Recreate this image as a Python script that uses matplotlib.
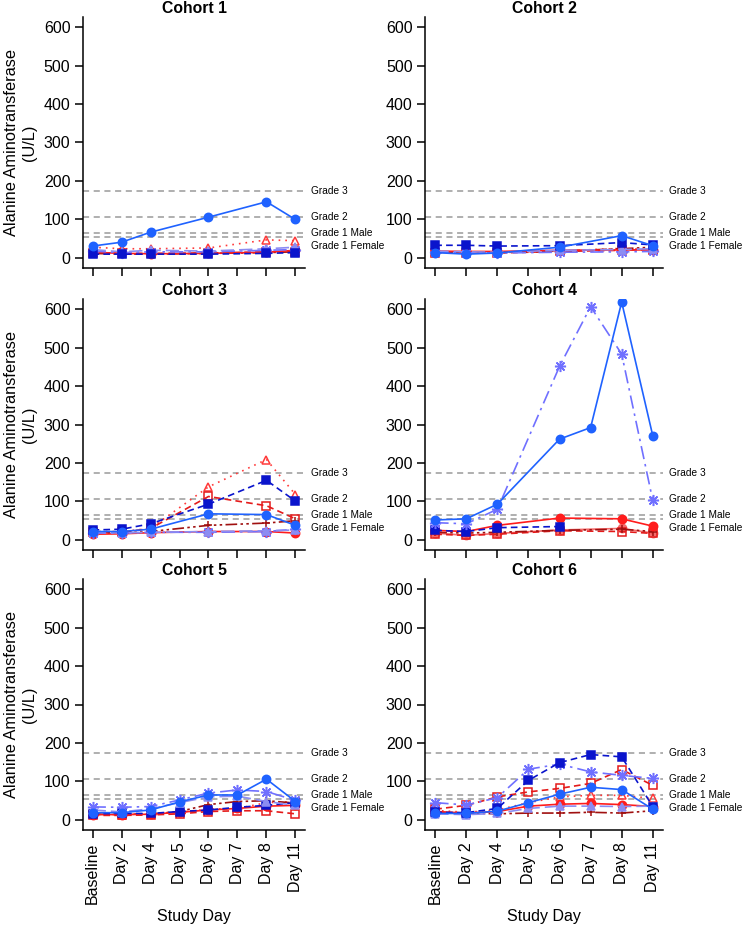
import numpy as np
import matplotlib
matplotlib.use("Agg")
import matplotlib.pyplot as plt

plt.rcParams['font.family'] = ['Liberation Sans', 'DejaVu Sans']

days = ["Baseline", "Day 2", "Day 4", "Day 5", "Day 6", "Day 7", "Day 8", "Day 11"]
nan = np.nan

grade_values = [175, 106, 65, 55]
grade_labels = ["Grade 3", "Grade 2", "Grade 1 Male", "Grade 1 Female"]
grade_label_y = [175, 106, 65, 31]

# ALT (U/L) per subject, one list per cohort and line style
cohort1 = {
    "red_tri":      [28, 24, 24, nan, 26, nan, 47, 45],
    "red_square":   [14, 12, 12, nan, 13, nan, 16, 16],
    "darkred_plus": [12, 10, 10, nan, 12, nan, 14, 16],
    "red_circle":   [15, 12, 11, nan, 12, nan, 15, 20],
    "star":         [18, 14, 16, nan, 16, nan, 20, 22],
    "lav_tri":      [22, 16, 20, nan, 18, nan, 24, 28],
    "dark_square":  [10, 10, 10, nan, 10, nan, 12, 14],
    "blue_circle":  [31, 41, 67, nan, 106, nan, 146, 100],
}
cohort2 = {
    "red_tri":      [16, 15, 15, nan, 18, nan, 25, 22],
    "red_square":   [14, 14, 13, nan, 17, nan, 20, 22],
    "darkred_plus": [15, 15, 14, nan, 18, nan, 24, 28],
    "red_circle":   [18, 17, 17, nan, 20, nan, 21, 21],
    "star":         [15, 14, 13, nan, 15, nan, 16, 17],
    "lav_tri":      [18, 16, 15, nan, 20, nan, 22, 24],
    "dark_square":  [33, 33, 31, nan, 32, nan, 40, 34],
    "blue_circle":  [14, 10, 13, nan, 28, nan, 58, 32],
}
cohort3 = {
    "red_tri":      [22, 22, 30, nan, 138, nan, 209, 118],
    "red_square":   [20, 20, 30, nan, 113, nan, 89, 55],
    "darkred_plus": [18, 18, 22, nan, 38, nan, 44, 50],
    "red_circle":   [15, 16, 19, nan, 22, nan, 22, 18],
    "star":         [18, 18, 20, nan, 20, nan, 22, 28],
    "lav_tri":      [20, 18, 20, nan, 22, nan, 24, 26],
    "dark_square":  [26, 28, 42, nan, 93, nan, 155, 101],
    "blue_circle":  [22, 22, 28, nan, 68, nan, 66, 38],
}
cohort4 = {
    "salmon_circle": [18, 12, 17, nan, 26, nan, 30, 18],
    "red_square":   [15, 12, 15, nan, 24, nan, 22, 17],
    "darkred_plus": [20, 18, 20, nan, 25, nan, 28, 22],
    "red_circle":   [25, 22, 38, nan, 57, nan, 55, 36],
    "dark_square":  [25, 22, 32, nan, 35, nan, nan, nan],
    "star":         [45, 42, 80, nan, 451, 606, 483, 103],
    "blue_circle":  [52, 55, 93, nan, 262, 292, 618, 271],
}
cohort5 = {
    "red_tri":      [15, 14, 16, 20, 28, 30, 45, 48],
    "red_square":   [12, 12, 13, 16, 22, 24, 24, 16],
    "darkred_plus": [15, 15, 16, 22, 40, 48, 50, 44],
    "red_circle":   [14, 14, 15, 20, 26, 30, 36, 38],
    "dark_square":  [16, 17, 17, 22, 26, 33, 38, 45],
    "lav_tri":      [26, 21, 29, 45, 60, 62, 48, 38],
    "star":         [34, 33, 35, 52, 70, 78, 74, 51],
    "blue_circle":  [19, 19, 26, 47, 65, 65, 106, 48],
}
cohort6 = {
    "darkred_plus": [20, 18, 16, 18, 18, 20, 18, 24],
    "red_tri":      [25, 20, 26, 45, 60, 64, 64, 56],
    "red_square":   [28, 38, 60, 73, 82, 95, 131, 90],
    "red_circle":   [22, 18, 22, 36, 41, 43, 40, 35],
    "lav_tri":      [16, 14, 17, 30, 36, 36, 35, 36],
    "star":         [45, 39, 58, 132, 145, 125, 116, 108],
    "dark_square":  [20, 19, 30, 103, 149, 170, 164, 35],
    "blue_circle":  [17, 17, 23, 45, 67, 85, 79, 28],
}

asterisk = (8, 2, 0)
styles = {
    "blue_circle":   dict(color="#1f62ff", ls="-", marker="o", mfc="#1f62ff"),
    "dark_square":   dict(color="#0a14cc", ls=(0, (4, 2.5)), marker="s", mfc="#0a14cc"),
    "star":          dict(color="#7070ff", ls=(0, (8, 3, 1.5, 3)), marker=asterisk, mfc="#7070ff"),
    "lav_tri":       dict(color="#8c8cf2", ls=(0, (8, 3)), marker="^", mfc="#8c8cf2"),
    "red_circle":    dict(color="#ff1c1c", ls="-", marker="o", mfc="#ff1c1c"),
    "red_square":    dict(color="#e41a1a", ls=(0, (4, 2.5)), marker="s", mfc="none"),
    "red_tri":       dict(color="#ff3a3a", ls=(0, (1, 3)), marker="^", mfc="none"),
    "darkred_plus":  dict(color="#a01010", ls=(0, (7, 2, 1.5, 2, 1.5, 2)), marker="+", mfc="#a01010"),
    "salmon_circle": dict(color="#f46a6a", ls="-", marker="o", mfc="#f46a6a"),
}

cohorts = [cohort1, cohort2, cohort3, cohort4, cohort5, cohort6]
titles = ["Cohort 1", "Cohort 2", "Cohort 3", "Cohort 4", "Cohort 5", "Cohort 6"]

W, H = 742, 925
fig = plt.figure(figsize=(W / 100, H / 100), dpi=100)
col_px = [(83, 222), (425, 238)]
row_px = [(17, 268), (299, 550), (579, 830)]

x = np.arange(len(days))
for i, (data, title) in enumerate(zip(cohorts, titles)):
    r, c = divmod(i, 2)
    left, width = col_px[c]
    top, bottom = row_px[r]
    ax = fig.add_axes([left / W, 1 - bottom / H, width / W, (bottom - top) / H])

    for g in grade_values:
        ax.axhline(g, color="#9a9a9a", ls=(0, (4, 3)), lw=1.1, zorder=1)
    for lab, gy in zip(grade_labels, grade_label_y):
        ax.annotate(lab, xy=(1, gy), xycoords=("axes fraction", "data"),
                    xytext=(4, 0), textcoords="offset points",
                    fontsize=7.3, va="center", ha="left", annotation_clip=False)

    for key, vals in data.items():
        v = np.array(vals, dtype=float)
        m = ~np.isnan(v)
        st = styles[key]
        ax.plot(x[m], v[m], color=st["color"], ls=st["ls"], lw=1.2,
                marker=st["marker"], markersize=6 if st["marker"] != asterisk else 8,
                markerfacecolor=st["mfc"], markeredgecolor=st["color"],
                markeredgewidth=1.1, zorder=3)

    ax.set_xlim(-0.33, 7.33)
    ax.set_ylim(-26, 626)
    ax.set_yticks([0, 100, 200, 300, 400, 500, 600])
    ax.set_xticks(x)
    if r == 2:
        ax.set_xticklabels(days, rotation=90)
        ax.set_xlabel("Study Day", fontsize=11.5, labelpad=4)
    else:
        ax.set_xticklabels([])
    if c == 0:
        ax.set_ylabel("Alanine Aminotransferase\n(U/L)", fontsize=11.8, labelpad=5)
    ax.tick_params(labelsize=11.5, length=6, width=1.1, direction="out", pad=3)
    ax.spines["top"].set_visible(False)
    ax.spines["right"].set_visible(False)
    ax.spines["left"].set_linewidth(1.1)
    ax.spines["bottom"].set_linewidth(1.1)
    ax.set_title(title, fontsize=11.3, fontweight="bold", pad=3)

fig.savefig("out.png", dpi=100)
